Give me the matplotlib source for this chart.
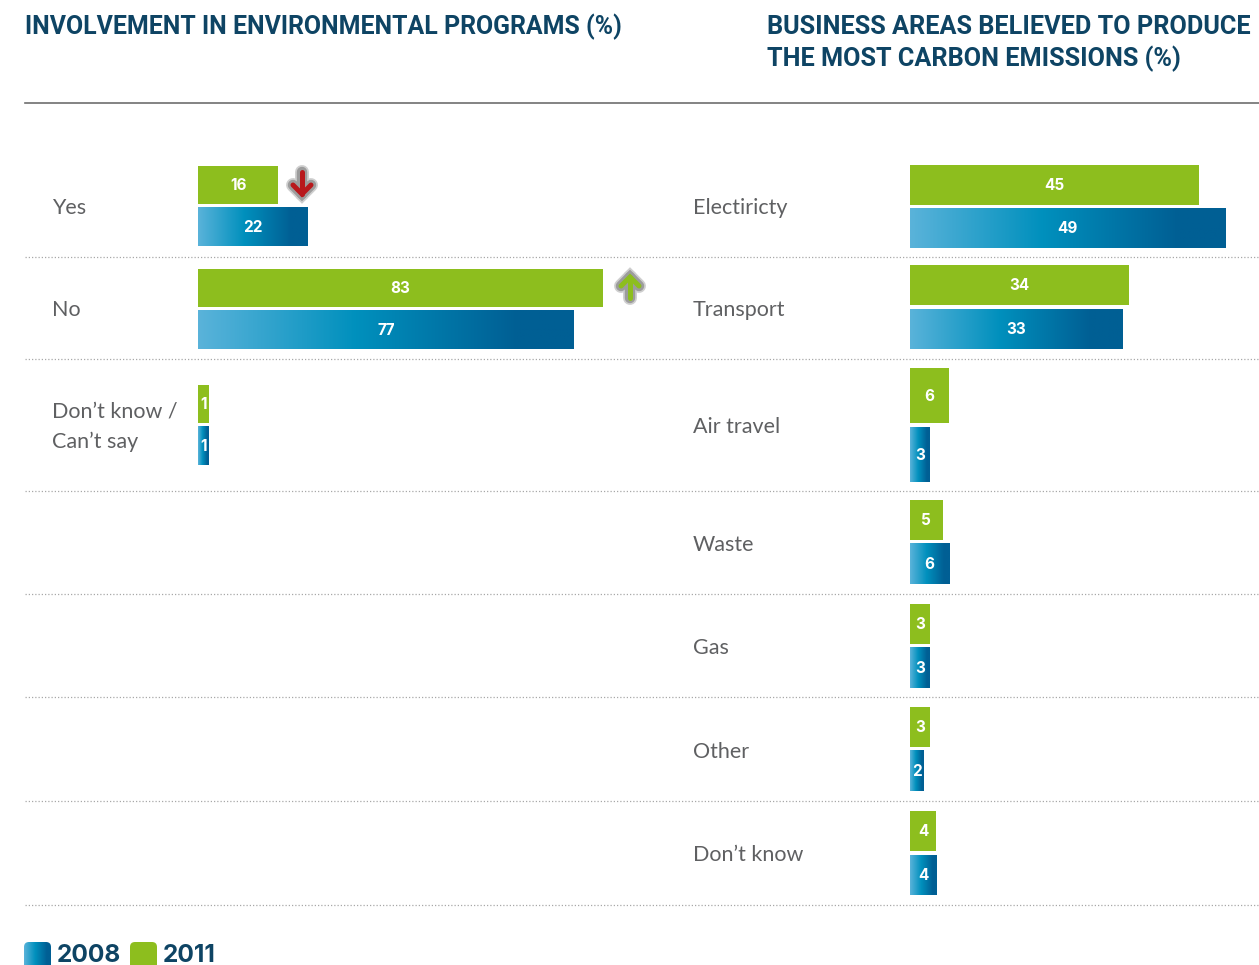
import matplotlib
matplotlib.use("Agg")
import matplotlib.pyplot as plt
import numpy as np
from matplotlib.colors import LinearSegmentedColormap
from matplotlib.patches import FancyBboxPatch

W, H = 1259, 965

LEFT_TITLE = "INVOLVEMENT IN ENVIRONMENTAL PROGRAMS (%)"
RIGHT_TITLE = ["BUSINESS AREAS BELIEVED TO PRODUCE", "THE MOST CARBON EMISSIONS (%)"]

LEFT_CATS = ["Yes", "No", "Don\u2019t know /\nCan\u2019t say"]
LEFT_2011 = [16, 83, 1]
LEFT_2008 = [22, 77, 1]

RIGHT_CATS = ["Electiricty", "Transport", "Air travel", "Waste", "Gas", "Other", "Don\u2019t know"]
RIGHT_2011 = [45, 34, 6, 5, 3, 3, 4]
RIGHT_2008 = [49, 33, 3, 6, 3, 2, 4]

# pixel layout: (top, bottom) of each bar
LEFT_G = [(166, 204), (269, 307), (385, 423)]
LEFT_B = [(207, 246), (310, 349), (426, 465)]
RIGHT_G = [(165, 205), (265, 305), (368, 423), (500, 540), (604, 644), (707, 747), (811, 851)]
RIGHT_B = [(208, 248), (309, 349), (427, 482), (543, 584), (647, 688), (750, 791), (855, 895)]
LEFT_LABEL_Y = [207, 309, 426]
RIGHT_LABEL_Y = [207, 309, 426, 544, 647, 751, 854]
RULES = [257, 359, 491, 594, 697, 801, 905]

NAVY = "#0e4464"
GREY = "#5f6062"
GREEN = "#8dbe1e"
BLUES = LinearSegmentedColormap.from_list(
    "blues", [(0, "#5ab3da"), (0.42, "#0090bd"), (0.85, "#005f94"), (1, "#005f94")]
)
GRAD = np.linspace(0, 1, 256).reshape(1, -1)

plt.rcParams["font.family"] = ["Lato", "DejaVu Sans"]


def bar_axes(fig, x0, x1, scale, pad):
    ax = fig.add_axes([x0 / W, 1 - 910 / H, (x1 - x0) / W, (910 - 150) / H])
    ax.set_xlim(-pad / scale, (x1 - x0 - pad) / scale)
    ax.set_ylim(910, 150)
    ax.axis("off")
    ax.patch.set_alpha(0)
    return ax


def draw_bars(ax, vals, spans, blue=False, min_val=0):
    xlim = ax.get_xlim()
    xmin = xlim[0]
    for v, (top, bot) in zip(vals, spans):
        end = max(v, min_val)
        if blue:
            ax.imshow(GRAD, cmap=BLUES, extent=(xmin, end, bot, top), aspect="auto", zorder=2)
        else:
            ax.barh((top + bot) / 2, end - xmin, height=bot - top, left=xmin, color=GREEN, zorder=2)
        ax.text((xmin + end) / 2, (top + bot) / 2 + 0.8, str(v), color="white", ha="center",
                va="center", fontsize=11, fontweight="bold", family="Inter", zorder=3)
    ax.set_xlim(xlim)
    ax.set_ylim(910, 150)


def arrow(page, x, top, bottom, colour, up):
    tip, tail = (top, bottom) if up else (bottom, top)
    d = 9 if up else -9
    xs = [x - 9, x, x + 9]
    ys = [tip + d, tip, tip + d]
    for colr, lw in (("#cfcfcf", 10), ("#9c9c9c", 7.5), (colour, 3.6)):
        page.plot([x, x], [tip, tail], color=colr, lw=lw, solid_capstyle="round", zorder=5)
        page.plot(xs, ys, color=colr, lw=lw, solid_capstyle="round", solid_joinstyle="miter", zorder=5)


fig = plt.figure(figsize=(W / 100, H / 100), dpi=100, facecolor="white")

page = fig.add_axes([0, 0, 1, 1])
page.set_xlim(0, W)
page.set_ylim(H, 0)
page.axis("off")

page.text(25, 27, LEFT_TITLE, color=NAVY, fontsize=17.9, fontweight="bold", va="center",
          family="Roboto")
for i, line in enumerate(RIGHT_TITLE):
    page.text(767, 27 + 32 * i, line, color=NAVY, fontsize=18.2, fontweight="bold", va="center",
              family="Roboto")

page.plot([25, W], [103, 103], color="#6e6e6e", lw=1.2)
for y in RULES:
    page.plot([25, W], [y, y], color="#a8a8a8", lw=0.9, ls=(0, (1, 1.6)))

for cat, y in zip(LEFT_CATS, LEFT_LABEL_Y):
    page.text(52, y + 1, cat, color=GREY, fontsize=15.5, va="center", linespacing=1.62)
for cat, y in zip(RIGHT_CATS, RIGHT_LABEL_Y):
    page.text(693, y + 1, cat, color=GREY, fontsize=15.5, va="center")

left = bar_axes(fig, 198, 660, 4.84, 3)
draw_bars(left, LEFT_2011, LEFT_G, min_val=1.65)
draw_bars(left, LEFT_2008, LEFT_B, blue=True, min_val=1.65)

right = bar_axes(fig, 910, W, 6.42, 0.5)
draw_bars(right, RIGHT_2011, RIGHT_G)
draw_bars(right, RIGHT_2008, RIGHT_B, blue=True)

arrow(page, 302, 172, 194, "#b8181c", up=False)
arrow(page, 630, 277, 298, GREEN, up=True)

# legend swatches run off the bottom edge, same as the source page
im = page.imshow(GRAD, cmap=BLUES, extent=(24, 51, 975, 942), aspect="auto", zorder=3)
sw_clip = FancyBboxPatch((24, 942), 27, 33, boxstyle="round,pad=0,rounding_size=5",
                         fc="none", ec="none", transform=page.transData)
page.add_patch(sw_clip)
im.set_clip_path(sw_clip)
page.add_patch(FancyBboxPatch((130, 942), 27, 33, boxstyle="round,pad=0,rounding_size=5",
                              fc=GREEN, ec="none", zorder=3))
page.set_xlim(0, W)
page.set_ylim(H, 0)
page.text(57, 955.5, "2008", color=NAVY, fontsize=17.6, fontweight="bold", va="center",
          family="Inter")
page.text(163, 955.5, "2011", color=NAVY, fontsize=17.6, fontweight="bold", va="center",
          family="Inter")

fig.savefig("out.png", dpi=100, facecolor="white")
